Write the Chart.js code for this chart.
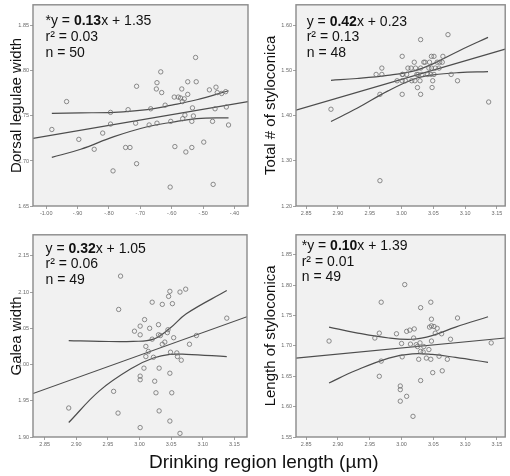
<!DOCTYPE html>
<html>
<head>
<meta charset="utf-8">
<script src="https://cdn.jsdelivr.net/npm/chart.js@4.4.1/dist/chart.umd.min.js"></script>
<style>
  html, body { margin: 0; padding: 0; background: #fff; }
  #wrap { position: relative; width: 510px; height: 476px; overflow: hidden; font-family: 'Liberation Sans', Arial, sans-serif; }
  .panel { position: absolute; width: 255px; height: 230px; }
  .panel canvas { display: block; }
  #xlabel { position: absolute; left: 149px; top: 451px; font-size: 19px; color: #111; white-space: nowrap; }
</style>
</head>
<body>
<div id="wrap">
  <div class="panel" style="left:0;top:0"><canvas id="c1" width="255" height="230"></canvas></div>
  <div class="panel" style="left:255px;top:0"><canvas id="c2" width="255" height="230"></canvas></div>
  <div class="panel" style="left:0;top:230px"><canvas id="c3" width="255" height="230"></canvas></div>
  <div class="panel" style="left:255px;top:230px"><canvas id="c4" width="255" height="230"></canvas></div>
  <div id="xlabel">Drinking region length (µm)</div>
</div>
<script>
// Panel 1 - Dorsal legulae width
const p1X = [-0.982, -0.935, -0.896, -0.847, -0.820, -0.795, -0.795, -0.787, -0.747, -0.739, -0.733, -0.715, -0.712, -0.712, -0.672, -0.667, -0.649, -0.647, -0.647, -0.635, -0.632, -0.621, -0.605, -0.603, -0.592, -0.590, -0.579, -0.572, -0.568, -0.566, -0.565, -0.560, -0.558, -0.555, -0.549, -0.549, -0.536, -0.536, -0.534, -0.531, -0.524, -0.522, -0.498, -0.480, -0.470, -0.468, -0.462, -0.459, -0.455, -0.441, -0.428, -0.426, -0.419];
const p1Y = [1.735, 1.766, 1.724, 1.713, 1.731, 1.754, 1.741, 1.689, 1.715, 1.757, 1.715, 1.742, 1.783, 1.697, 1.740, 1.758, 1.780, 1.787, 1.742, 1.799, 1.776, 1.762, 1.671, 1.744, 1.771, 1.716, 1.771, 1.770, 1.780, 1.766, 1.747, 1.769, 1.751, 1.710, 1.774, 1.788, 1.744, 1.715, 1.759, 1.750, 1.815, 1.788, 1.721, 1.779, 1.744, 1.674, 1.758, 1.782, 1.776, 1.775, 1.777, 1.760, 1.740];
const p1FitX = [-1.042, -0.357];
const p1FitY = [1.725, 1.766];
const p1BandX = [-0.982, -0.89, -0.784, -0.678, -0.60, -0.52, -0.419];
const p1Upper = [1.753, 1.7535, 1.754, 1.757, 1.762, 1.768, 1.778];
const p1Lower = [1.704, 1.713, 1.727, 1.738, 1.743, 1.747, 1.748];
const p1XTicks = [-1.00, -0.90, -0.80, -0.70, -0.60, -0.50, -0.40];
const p1YTicks = [1.65, 1.70, 1.75, 1.80, 1.85];
const p1Eq = [['*y = ', '0.13', 'x + 1.35'], ['r² = 0.03'], ['n = 50']];

// Panel 2 - Total # of styloconica
const p2X = [2.889, 2.960, 2.966, 2.969, 2.969, 2.966, 2.993, 3.001, 3.001, 3.002, 3.001, 3.001, 3.006, 3.008, 3.010, 3.015, 3.016, 3.020, 3.021, 3.022, 3.024, 3.025, 3.026, 3.029, 3.030, 3.030, 3.030, 3.032, 3.035, 3.037, 3.041, 3.043, 3.044, 3.046, 3.047, 3.047, 3.048, 3.049, 3.051, 3.051, 3.053, 3.056, 3.059, 3.060, 3.064, 3.065, 3.073, 3.078, 3.088, 3.137];
const p2Y = [1.414, 1.491, 1.447, 1.505, 1.491, 1.256, 1.477, 1.531, 1.491, 1.491, 1.477, 1.447, 1.477, 1.491, 1.505, 1.505, 1.477, 1.518, 1.477, 1.505, 1.491, 1.462, 1.491, 1.477, 1.568, 1.505, 1.447, 1.491, 1.518, 1.518, 1.491, 1.505, 1.518, 1.491, 1.531, 1.505, 1.462, 1.477, 1.531, 1.491, 1.505, 1.518, 1.505, 1.518, 1.518, 1.531, 1.579, 1.491, 1.477, 1.430];
const p2FitX = [2.834, 3.163];
const p2FitY = [1.412, 1.547];
const p2BandX = [2.889, 2.93, 2.978, 3.02, 3.05, 3.09, 3.136];
const p2Upper = [1.478, 1.482, 1.489, 1.499, 1.515, 1.543, 1.573];
const p2Lower = [1.387, 1.416, 1.454, 1.481, 1.490, 1.495, 1.497];
const p2XTicks = [2.85, 2.90, 2.95, 3.00, 3.05, 3.10, 3.15];
const p2YTicks = [1.20, 1.30, 1.40, 1.50, 1.60];
const p2Eq = [['y = ', '0.42', 'x + 0.23'], ['r² = 0.13'], ['n = 48']];

// Panel 3 - Galea width
const p3X = [2.888, 2.959, 2.966, 2.967, 2.970, 2.992, 3.001, 3.001, 3.001, 3.001, 3.001, 3.007, 3.008, 3.010, 3.010, 3.014, 3.016, 3.020, 3.020, 3.022, 3.024, 3.026, 3.030, 3.030, 3.031, 3.031, 3.033, 3.036, 3.036, 3.040, 3.044, 3.045, 3.046, 3.048, 3.048, 3.048, 3.049, 3.051, 3.052, 3.054, 3.059, 3.060, 3.064, 3.064, 3.066, 3.073, 3.079, 3.090, 3.138];
const p3Y = [1.940, 1.963, 1.933, 2.076, 2.122, 2.046, 2.053, 2.041, 1.984, 1.979, 1.913, 1.995, 2.062, 2.025, 2.011, 2.018, 2.050, 2.086, 2.035, 2.010, 1.977, 1.961, 2.055, 2.041, 1.995, 1.936, 2.040, 2.083, 2.028, 2.031, 2.044, 2.048, 2.094, 2.101, 1.988, 1.922, 2.017, 1.961, 2.084, 2.037, 2.016, 2.011, 2.100, 1.905, 2.006, 2.104, 2.028, 2.040, 2.064];
const p3FitX = [2.8315, 3.170];
const p3FitY = [1.960, 2.066];
const p3BandX = [2.888, 2.937, 2.99, 3.022, 3.048, 3.074, 3.138];
const p3Upper = [2.033, 2.032, 2.032, 2.035, 2.050, 2.070, 2.102];
const p3Lower = [1.920, 1.964, 1.996, 2.009, 2.014, 2.014, 2.011];
const p3XTicks = [2.85, 2.90, 2.95, 3.00, 3.05, 3.10, 3.15];
const p3YTicks = [1.90, 1.95, 2.00, 2.05, 2.10, 2.15];
const p3Eq = [['y = ', '0.32', 'x + 1.05'], ['r² = 0.06'], ['n = 49']];

// Panel 4 - Length of styloconica
const p4X = [2.886, 2.958, 2.965, 2.965, 2.968, 2.968, 2.992, 2.998, 2.998, 2.998, 3.000, 3.001, 3.005, 3.008, 3.008, 3.013, 3.014, 3.018, 3.019, 3.020, 3.023, 3.025, 3.029, 3.027, 3.030, 3.030, 3.030, 3.034, 3.035, 3.039, 3.043, 3.044, 3.046, 3.046, 3.047, 3.047, 3.047, 3.049, 3.051, 3.053, 3.056, 3.059, 3.063, 3.064, 3.072, 3.077, 3.088, 3.141];
const p4Y = [1.708, 1.713, 1.721, 1.650, 1.772, 1.675, 1.720, 1.634, 1.628, 1.609, 1.704, 1.682, 1.801, 1.724, 1.617, 1.726, 1.703, 1.584, 1.713, 1.728, 1.702, 1.699, 1.705, 1.678, 1.763, 1.691, 1.643, 1.690, 1.699, 1.680, 1.694, 1.731, 1.772, 1.678, 1.744, 1.733, 1.708, 1.656, 1.732, 1.721, 1.729, 1.683, 1.720, 1.659, 1.678, 1.711, 1.746, 1.705];
const p4FitX = [2.834, 3.163];
const p4FitY = [1.680, 1.713];
const p4BandX = [2.886, 2.927, 2.98, 3.017, 3.048, 3.085, 3.136];
const p4Upper = [1.731, 1.722, 1.713, 1.711, 1.717, 1.731, 1.748];
const p4Lower = [1.639, 1.659, 1.680, 1.687, 1.686, 1.681, 1.673];
const p4XTicks = [2.85, 2.90, 2.95, 3.00, 3.05, 3.10, 3.15];
const p4YTicks = [1.55, 1.60, 1.65, 1.70, 1.75, 1.80, 1.85];
const p4Eq = [['*y = ', '0.10', 'x + 1.39'], ['r² = 0.01'], ['n = 49']];

const FONT = "'Liberation Sans', Arial, sans-serif";
const PLOT_BG = '#f1f1f1';
const FRAME = '#8a8a8a';
const LINE = '#4d4d4d';
const POINT = '#707070';
const TICK_TXT = '#6a6a6a';

// SPSS style tick text: -.90, 2.85
function spss(v) {
    const s = Math.abs(v).toFixed(2).replace(/^0/, '');
    return (v < 0 ? '-' : '') + s;
}

function toXY(xs, ys) {
    return xs.map((x, i) => ({ x: x, y: ys[i] }));
}

// grey plot area with a full box round it
const framePlugin = {
    id: 'frame',
    beforeDraw(chart) {
        const { ctx, chartArea: a } = chart;
        ctx.save();
        ctx.fillStyle = PLOT_BG;
        ctx.fillRect(a.left, a.top, a.width, a.height);
        ctx.restore();
    },
    afterDraw(chart) {
        const { ctx, chartArea: a } = chart;
        ctx.save();
        ctx.strokeStyle = FRAME;
        ctx.lineWidth = 1.4;
        ctx.strokeRect(a.left, a.top, a.width, a.height);
        ctx.restore();
    }
};

// regression text, middle part of first line in bold
const eqPlugin = {
    id: 'eqText',
    afterDatasetsDraw(chart, args, opts) {
        const { ctx, chartArea: a } = chart;
        ctx.save();
        ctx.fillStyle = '#111';
        ctx.textBaseline = 'alphabetic';
        opts.lines.forEach((segs, row) => {
            let x = a.left + opts.dx;
            const y = a.top + opts.dy + row * opts.gap;
            segs.forEach((t, k) => {
                ctx.font = (segs.length > 1 && k === 1 ? 'bold ' : '') + opts.size + 'px ' + FONT;
                ctx.fillText(t, x, y);
                x += ctx.measureText(t).width;
            });
        });
        ctx.restore();
    }
};

function makePanel(id, o) {
    const lineSet = (data, tension) => ({
        data: data,
        showLine: true,
        borderColor: LINE,
        borderWidth: 1.2,
        pointRadius: 0,
        tension: tension,
        fill: false
    });
    return new Chart(document.getElementById(id), {
        type: 'scatter',
        data: {
            datasets: [
                {
                    data: toXY(o.xs, o.ys),
                    pointRadius: 2.2,
                    pointBorderWidth: 0.8,
                    pointBorderColor: POINT,
                    pointBackgroundColor: 'rgba(0,0,0,0)'
                },
                lineSet(toXY(o.fitX, o.fitY), 0),
                lineSet(toXY(o.bandX, o.upper), 0.4),
                lineSet(toXY(o.bandX, o.lower), 0.4)
            ]
        },
        options: {
            responsive: false,
            animation: false,
            events: [],
            layout: { padding: { top: o.padTop, right: o.padRight, left: 0, bottom: 0 } },
            plugins: {
                legend: { display: false },
                tooltip: { enabled: false },
                eqText: { lines: o.eq, dx: o.eqDx, dy: o.eqDy, gap: 15.8, size: 14 }
            },
            scales: {
                x: {
                    type: 'linear',
                    min: o.xMin,
                    max: o.xMax,
                    afterBuildTicks: s => { s.ticks = o.xTicks.map(v => ({ value: v })); },
                    afterFit: s => { s.height = o.xAxisH; s.paddingLeft = 0; s.paddingRight = 0; },
                    ticks: { color: TICK_TXT, font: { size: 5.5, family: FONT }, padding: 1, maxRotation: 0, autoSkip: false, callback: v => spss(v) },
                    grid: { drawOnChartArea: false, drawTicks: true, tickLength: 3, color: FRAME, lineWidth: 0.8 },
                    border: { display: false }
                },
                y: {
                    type: 'linear',
                    min: o.yMin,
                    max: o.yMax,
                    afterBuildTicks: s => { s.ticks = o.yTicks.map(v => ({ value: v })); },
                    afterFit: s => { s.width = o.yAxisW; s.paddingTop = 0; s.paddingBottom = 0; },
                    ticks: { color: TICK_TXT, font: { size: 5.5, family: FONT }, padding: 1, autoSkip: false, callback: v => spss(v) },
                    grid: { drawOnChartArea: false, drawTicks: true, tickLength: 3, color: FRAME, lineWidth: 0.8 },
                    border: { display: false },
                    title: { display: true, text: o.title, color: '#111', font: { size: 15, family: FONT }, padding: { top: o.titlePad, bottom: 0 } }
                }
            }
        },
        plugins: [framePlugin, eqPlugin]
    });
}

makePanel('c1', {
    xs: p1X, ys: p1Y, fitX: p1FitX, fitY: p1FitY, bandX: p1BandX, upper: p1Upper, lower: p1Lower,
    xTicks: p1XTicks, yTicks: p1YTicks, eq: p1Eq, title: 'Dorsal legulae width',
    xMin: -1.042, xMax: -0.357, yMin: 1.65, yMax: 1.8735,
    padTop: 1, padRight: 7, yAxisW: 33, xAxisH: 24, titlePad: 8, eqDx: 12.5, eqDy: 20.5
});

makePanel('c2', {
    xs: p2X, ys: p2Y, fitX: p2FitX, fitY: p2FitY, bandX: p2BandX, upper: p2Upper, lower: p2Lower,
    xTicks: p2XTicks, yTicks: p2YTicks, eq: p2Eq, title: 'Total # of styloconica',
    xMin: 2.834, xMax: 3.163, yMin: 1.20, yMax: 1.645,
    padTop: 1, padRight: 3, yAxisW: 41, xAxisH: 24, titlePad: 7, eqDx: 10.7, eqDy: 20.7
});

makePanel('c3', {
    xs: p3X, ys: p3Y, fitX: p3FitX, fitY: p3FitY, bandX: p3BandX, upper: p3Upper, lower: p3Lower,
    xTicks: p3XTicks, yTicks: p3YTicks, eq: p3Eq, title: 'Galea width',
    xMin: 2.8315, xMax: 3.170, yMin: 1.90, yMax: 2.179,
    padTop: 4, padRight: 8, yAxisW: 33, xAxisH: 23, titlePad: 8, eqDx: 12.5, eqDy: 17.7
});

makePanel('c4', {
    xs: p4X, ys: p4Y, fitX: p4FitX, fitY: p4FitY, bandX: p4BandX, upper: p4Upper, lower: p4Lower,
    xTicks: p4XTicks, yTicks: p4YTicks, eq: p4Eq, title: 'Length of styloconica',
    xMin: 2.834, xMax: 3.163, yMin: 1.55, yMax: 1.883,
    padTop: 4, padRight: 3, yAxisW: 41, xAxisH: 23, titlePad: 7, eqDx: 5.7, eqDy: 15
});
</script>
</body>
</html>
